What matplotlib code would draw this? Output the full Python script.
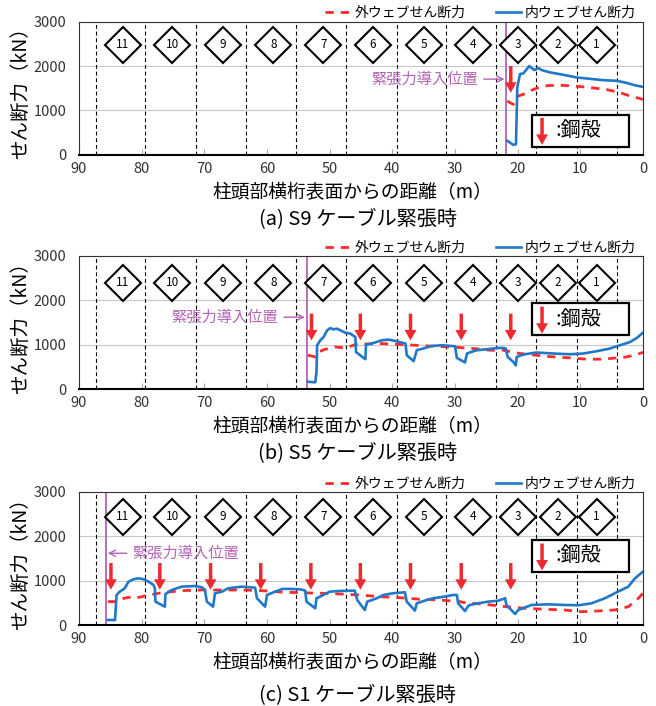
import matplotlib
matplotlib.use('Agg')
import matplotlib.pyplot as plt
from matplotlib.patches import Rectangle

plt.rcParams['font.family'] = ['Noto Sans CJK JP', 'DejaVu Sans']

RED = '#ff2b2b'
BLUE = '#1f78c8'
PURPLE = '#b463b4'
ARROW_RED = '#ec2a30'

segment_edges = [87.3, 79.4, 71.3, 63.3, 55.3, 47.4, 39.3, 31.4, 23.4, 17.0, 10.6, 4.2]
segment_ids = [11, 10, 9, 8, 7, 6, 5, 4, 3, 2, 1]
segment_centers = [83.0, 75.1, 67.0, 59.0, 51.0, 43.1, 35.0, 27.1, 20.0, 13.6, 7.4]
x_ticks = [90, 80, 70, 60, 50, 40, 30, 20, 10, 0]
y_ticks = [0, 1000, 2000, 3000]

label_out = '外ウェブせん断力'
label_in = '内ウェブせん断力'
captions = ['(a) S9 ケーブル緊張時', '(b) S5 ケーブル緊張時', '(c) S1 ケーブル緊張時']

# (a) S9
a_x_out = [21.66, 20.7, 19.9, 19.1, 17.77, 16.44, 15.1, 13.25, 11.1, 8.46, 5.8, 3.67, 2.07, 0]
a_out = [1212, 1136, 1326, 1364, 1455, 1530, 1561, 1568, 1553, 1515, 1470, 1402, 1326, 1250]
a_x_in = [21.66, 20.7, 20.27, 20.06, 19.63, 19.1, 18.67, 18.15, 17.77, 17.35, 16.71, 16.17,
          14.84, 12.72, 10.6, 8.46, 6.34, 4.2, 2.6, 1.55, 0]
a_in = [318, 227, 243, 1516, 1818, 1834, 1909, 2000, 1955, 1909, 1955, 1909,
        1856, 1803, 1743, 1712, 1682, 1667, 1621, 1576, 1530]
a_jack = 21.8
a_shells = [21.1]

# (b) S5
b_x_out = [53.5, 52.3, 51.8, 50.7, 49.1, 47.5, 45.9, 44.3, 41.7, 39.5, 36.3, 33.2, 30.0,
           27.0, 24.4, 22.3, 19.6, 17.0, 14.3, 11.67, 9.0, 6.34, 4.2, 2.6, 1.0, 0]
b_out = [766, 728, 840, 900, 952, 929, 1005, 1019, 1028, 1012, 990, 967, 945,
         916, 878, 878, 804, 766, 728, 706, 677, 677, 706, 728, 782, 830]
b_x_in = [53.5, 52.3, 52.1, 52.0, 51.5, 50.97, 50.4, 49.9, 49.4, 48.8, 48.3, 47.5, 46.7,
          45.9, 45.8, 44.8, 44.3, 44.2, 43.3, 41.7, 40.6, 39.5, 38.5, 37.9, 37.7, 36.6,
          36.1, 35.1, 33.7, 32.1, 30.0, 29.7, 28.4, 28.1, 27.4, 26.5, 24.9, 23.3, 22.3,
          21.9, 21.6, 20.7, 20.3, 20.15, 19.1, 17.0, 14.3, 11.67, 9.5, 7.4, 5.3, 3.67,
          2.07, 1.0, 0]
b_in = [170, 156, 393, 990, 1101, 1175, 1325, 1376, 1347, 1362, 1325, 1273, 1251,
        1175, 840, 728, 677, 1005, 1028, 1101, 1117, 1086, 1050, 1028, 766, 632,
        878, 916, 974, 990, 967, 706, 603, 804, 840, 878, 900, 929, 929,
        916, 728, 616, 536, 728, 782, 827, 804, 788, 804, 856, 916, 990,
        1063, 1153, 1273]
b_jack = 53.67
b_shells = [52.9, 45.1, 37.1, 29.0, 21.1]

# (c) S1
c_x_out = [85.4, 84.25, 83.5, 82.1, 81.1, 79.5, 76.8, 73.6, 70.4, 67.2, 64.0, 60.8, 57.5,
           54.7, 51.4, 48.4, 45.2, 42.0, 38.8, 35.6, 32.4, 29.2, 28.4, 25.2, 22.0, 18.8,
           15.6, 12.5, 9.8, 7.2, 4.5, 2.35, 1.0, 0]
c_out = [532, 532, 585, 630, 607, 659, 734, 779, 794, 794, 794, 779, 745,
         734, 720, 704, 682, 644, 621, 585, 569, 532, 509, 472, 419, 382,
         360, 344, 306, 322, 344, 419, 569, 720]
c_x_in = [85.4, 84.25, 84.0, 83.5, 82.7, 82.1, 81.3, 80.5, 79.7, 78.9, 78.1, 77.9, 77.8,
          76.8, 76.3, 76.2, 75.2, 73.6, 71.5, 70.4, 69.9, 69.6, 68.6, 68.3, 67.2, 66.2,
          64.0, 61.9, 61.6, 60.3, 60.0, 58.7, 57.5, 56.3, 54.7, 53.9, 53.7, 52.3, 52.1,
          51.0, 50.0, 48.4, 46.5, 46.0, 45.6, 44.4, 44.0, 42.5, 41.4, 39.9, 38.0, 37.7,
          36.4, 36.1, 34.5, 33.5, 31.9, 30.3, 29.7, 29.5, 28.4, 27.9, 27.6, 26.3, 24.7,
          23.1, 22.0, 21.8, 20.4, 19.9, 17.8, 15.1, 12.5, 10.3, 8.2, 6.1, 4.5, 2.35,
          1.28, 0]
c_in = [119, 119, 682, 756, 832, 981, 1035, 1057, 1035, 981, 907, 832, 532,
        457, 419, 704, 794, 869, 884, 855, 794, 532, 419, 720, 756, 832,
        869, 846, 607, 419, 682, 756, 820, 817, 810, 779, 532, 382, 607,
        682, 756, 772, 779, 779, 569, 344, 532, 607, 682, 720, 742, 532,
        329, 495, 569, 607, 640, 682, 682, 495, 320, 434, 457, 495, 532,
        553, 607, 457, 254, 344, 457, 472, 457, 450, 495, 607, 720, 869,
        1057, 1206]
c_jack = 85.7
c_shells = [84.9, 77.1, 69.0, 61.0, 53.0, 45.1, 37.1, 29.0, 21.1]


def draw_panel(ax, x_out, y_out, x_in, y_in, jack_x, shells, shell_y, note, box_y0, diamond_y):
    """One shear force panel"""

    ax.set_xlim(90, 0)
    ax.set_ylim(0, 3000)
    ax.set_xticks(x_ticks)
    ax.set_yticks(y_ticks)
    ax.grid(axis='y', color='#c8c8c8', lw=0.8)
    ax.set_axisbelow(True)
    for e in segment_edges:
        ax.axvline(e, color='black', ls=(0, (3.5, 2.5)), lw=0.8, zorder=1)
    ax.axvline(jack_x, color=PURPLE, lw=1.3, zorder=2)

    ax.plot(x_out, y_out, color=RED, lw=2, ls=(0, (3, 2.5)), label=label_out, zorder=3)
    ax.plot(x_in, y_in, color=BLUE, lw=1.9, label=label_in, zorder=3)

    ax.plot(segment_centers, [diamond_y] * len(segment_centers), 'D', ms=18.5,
            mfc='white', mec='black', mew=1.5, zorder=4, clip_on=False)
    for cx, n in zip(segment_centers, segment_ids):
        ax.text(cx, diamond_y, str(n), ha='center', va='center', fontsize=8.5, zorder=5)

    arrow_style = dict(facecolor=ARROW_RED, edgecolor='none', width=2.5,
                       headwidth=8.5, headlength=7.5, shrink=0)
    for sx in shells:
        ax.annotate('', xy=(sx, shell_y[1]), xytext=(sx, shell_y[0]),
                    arrowprops=arrow_style, zorder=4)

    note_x, note_y, side = note
    ax.annotate('緊張力導入位置', xy=(jack_x + 0.3 * side, note_y), xytext=(note_x, note_y),
                ha='right' if side > 0 else 'left', va='center', color=PURPLE, fontsize=11,
                arrowprops=dict(arrowstyle='->', color=PURPLE, lw=1.0, shrinkA=2, shrinkB=0))

    ax.add_patch(Rectangle((0.804, box_y0), 0.172, 0.24, transform=ax.transAxes,
                           facecolor='white', edgecolor='black', lw=1.6, zorder=6))
    ax.annotate('', xy=(0.821, box_y0 + 0.013), xytext=(0.821, box_y0 + 0.215),
                xycoords='axes fraction', arrowprops=arrow_style, zorder=7)
    ax.text(0.845, box_y0 + 0.122, ':鋼殻', transform=ax.transAxes, ha='left', va='center',
            fontsize=14.5, zorder=7)

    for side_name in ['top', 'right', 'left']:
        ax.spines[side_name].set_color('#333333')
        ax.spines[side_name].set_linewidth(0.8)
    ax.spines['bottom'].set_color('black')
    ax.spines['bottom'].set_linewidth(1.5)
    ax.tick_params(axis='x', direction='in', length=4, color='#aaaaaa', pad=5,
                   labelsize=10.5, labelcolor='#333333')
    ax.tick_params(axis='y', length=0, pad=9, labelsize=10.5, labelcolor='#333333')

    ax.set_xlabel('柱頭部横桁表面からの距離（m）', fontsize=13.5)
    ax.xaxis.set_label_coords(0.484, -0.28)
    ax.xaxis.label.set_va('center')
    ax.set_ylabel('せん断力（kN）', fontsize=14, labelpad=2)

    ax.legend(loc='lower right', bbox_to_anchor=(0.99, 1.0), ncol=2, frameon=False,
              fontsize=10, handlelength=1.8, columnspacing=2.2, handletextpad=0.3,
              borderaxespad=0, borderpad=0.1)


fig = plt.figure(figsize=(6.56, 7.06), dpi=100)
ax_a = fig.add_axes([0.1204, 0.7805, 0.8598, 0.189])
ax_b = fig.add_axes([0.1204, 0.4486, 0.8598, 0.189])
ax_c = fig.add_axes([0.1204, 0.1143, 0.8598, 0.189])

draw_panel(ax_a, a_x_out, a_out, a_x_in, a_in, a_jack, a_shells, (2000, 1400),
           (26.3, 1705, 1), 0.063, 2480)
draw_panel(ax_b, b_x_out, b_out, b_x_in, b_in, b_jack, b_shells, (1700, 1100),
           (58.2, 1622, 1), 0.404, 2400)
draw_panel(ax_c, c_x_out, c_out, c_x_in, c_in, c_jack, c_shells, (1400, 800),
           (81.5, 1620, -1), 0.398, 2440)

for y, text in zip([0.691, 0.359, 0.016], captions):
    fig.text(0.545, y, text, ha='center', va='center', fontsize=14.5)

fig.savefig('out.png', dpi=100)
